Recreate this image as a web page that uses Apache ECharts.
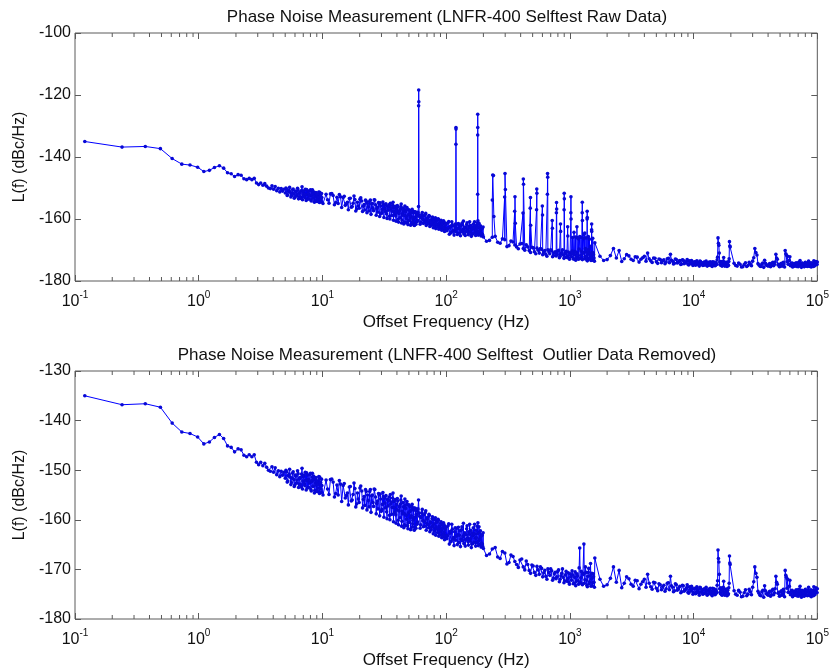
<!DOCTYPE html>
<html><head><meta charset="utf-8">
<script src="https://cdn.jsdelivr.net/npm/echarts@6/dist/echarts.min.js"></script>
<style>html,body{margin:0;padding:0;background:#fff}#c{width:832px;height:672px}</style>
</head><body><div id="c"></div>
<script>
// ---- data (Offset frequency in Hz, L(f) in dBc/Hz) ----
const baseFreq = [
0.12,0.24,0.37,0.49,0.61,0.73,0.85,0.98,1.10,1.22,
1.34,1.47,1.59,1.71,1.83,1.95,2.08,2.20,2.32,2.44,
2.56,2.69,2.81,2.93,3.05,3.17,3.30,3.42,3.54,3.66,
3.79,3.91,4.03,4.15,4.27,4.40,4.52,4.64,4.76,4.88,
5.01,5.13,5.25,5.37,5.49,5.62,5.74,5.86,5.98,6.10,
6.23,6.35,6.47,6.59,6.71,6.84,6.96,7.08,7.20,7.32,
7.45,7.57,7.69,7.81,7.94,8.06,8.18,8.30,8.42,8.55,
8.67,8.79,8.91,9.03,9.16,9.28,9.40,9.52,9.65,9.77,
9.89,
11.0,12.2,13.4,14.7,15.9,17.1,18.3,19.5,20.8,22.0,
23.2,24.4,25.6,26.9,28.1,29.3,30.5,31.7,33.0,34.2,
35.4,36.6,37.8,39.1,40.3,41.5,42.7,43.9,45.2,46.4,
47.6,48.8,50.0,51.3,52.5,53.7,54.9,56.2,57.4,58.6,
59.8,61.0,62.3,63.5,64.7,65.9,67.1,68.4,69.6,70.8,
72.0,73.2,74.5,75.7,76.9,78.1,79.3,80.6,81.8,83.0,
84.2,85.4,86.7,87.9,89.1,90.3,91.5,92.8,94.0,95.2,
96.4,97.7,98.9,
100.0,102.4,104.9,107.3,109.8,112.2,114.6,117.1,119.5,122.0,
124.4,126.8,129.3,131.7,134.2,136.6,139.0,141.5,143.9,146.4,
148.8,151.2,153.7,156.1,158.6,161.0,163.4,165.9,168.3,170.8,
173.2,175.6,178.1,180.5,183.0,185.4,187.8,190.3,192.7,195.1,
197.6,
200,224,249,273,298,322,347,371,395,420,
444,469,493,517,542,566,591,615,639,664,
688,713,737,761,786,810,835,859,883,908,
932,957,981,1005,1030,1054,1079,1103,1127,1152,
1176,1201,1225,1249,1274,1298,1323,1347,1371,1396,
1420,1445,1469,1493,1518,1542,1567,1591,
1750,2000,2250,2500,2750,3000,3250,3500,3750,4000,
4250,4500,4750,5000,5250,5500,5750,6000,6250,6500,
6750,7000,7250,7500,7750,8000,8250,8500,8750,9000,
9250,9500,9750,10000,10250,10500,10750,11000,11250,11500,
11750,12000,12250,12500,12750,13000,13250,13500,13750,14000,
14250,14500,14750,15000,15250,15500,15750,16000,16250,16500,
16750,17000,17250,17500,17750,18000,18250,18500,18750,19000,
19250,19500,19750,
21250,22500,23750,25000,26250,27500,28750,30000,31250,32500,
33750,35000,36250,37500,38750,40000,41250,42500,43750,45000,
46250,47500,48750,50000,51250,52500,53750,55000,56250,57500,
58750,60000,61250,62500,63750,65000,66250,67500,68750,70000,
71250,72500,73750,75000,76250,77500,78750,80000,81250,82500,
83750,85000,86250,87500,88750,90000,91250,92500,93750,95000,
96250,97500,98750,100000
];
const baseLevel = [
-135.0,-136.8,-136.6,-137.3,-140.5,-142.3,-142.6,-143.3,-144.7,-144.3,
-143.4,-142.8,-143.6,-145.1,-145.4,-146.3,-145.7,-145.9,-147.0,-147.3,
-146.9,-147.3,-146.9,-148.4,-148.9,-148.4,-149.1,-148.6,-149.4,-150.0,
-150.2,-149.3,-150.4,-149.5,-150.9,-150.1,-151.3,-150.2,-151.0,-150.4,
-151.6,-150.3,-152.2,-150.8,-151.4,-152.5,-150.6,-151.9,-153.0,-151.2,
-152.0,-150.7,-152.8,-151.5,-153.4,-149.6,-152.2,-151.0,-153.1,-152.0,
-150.5,-153.6,-151.8,-152.6,-150.9,-153.9,-152.3,-151.4,-153.2,-152.0,
-154.1,-151.7,-153.0,-152.4,-154.3,-152.8,-151.9,-153.7,-152.5,-154.5,
-153.1,
-153.8,-152.4,-155.0,-153.1,-154.6,-156.2,-153.7,-155.8,-154.2,-157.1,
-155.0,-153.9,-156.5,-155.4,-157.8,-154.8,-156.9,-155.6,-158.4,-156.1,
-154.9,-157.5,-156.3,-159.0,-155.7,-158.2,-156.8,-160.3,-157.4,-155.8,
-159.1,-161.2,-157.0,-159.6,-158.0,-160.8,-157.6,-161.5,-158.9,-160.4,
-156.0,-159.3,-161.0,-158.6,-160.2,-159.0,-161.3,-158.2,-160.7,-159.5,
-161.6,-159.1,-160.4,-162.0,-159.8,-161.1,-160.0,-162.3,-159.6,-161.4,
-160.5,-162.6,-160.1,-161.8,-163.0,-160.7,-162.1,-161.0,-163.4,-160.6,
-162.5,-161.3,-163.7,
-161.5,-163.2,-160.8,-162.7,-164.4,-161.9,-163.6,-162.4,-164.1,-161.7,
-163.0,-164.6,-162.2,-163.9,-161.4,-163.4,-164.8,-162.6,-164.0,-161.8,
-163.7,-165.1,-162.9,-164.3,-162.1,-164.9,-163.2,-161.6,-164.5,-162.8,
-165.3,-163.6,-161.3,-160.6,-164.2,-162.5,-165.0,-163.4,-164.7,-163.1,
-165.4,
-165.8,-166.9,-165.6,-167.8,-166.7,-168.6,-167.4,-169.0,-168.1,-169.5,
-168.3,-170.2,-169.1,-170.6,-169.4,-171.0,-169.8,-170.7,-171.4,-169.9,
-171.2,-170.3,-171.8,-170.6,-171.5,-170.1,-172.0,-170.8,-171.6,-172.3,
-170.4,-171.9,-172.6,-170.9,-172.2,-171.1,-172.8,-170.5,-172.4,-171.3,
-173.0,-165.7,-171.7,-172.9,-170.8,-164.9,-172.1,-170.6,-173.2,-171.4,
-169.8,-172.5,-168.8,-171.9,-173.3,-170.9,-172.6,-167.7,
-172.0,-173.1,-169.5,-170.2,-172.8,-171.9,-173.4,-172.3,-173.0,-172.0,
-171.0,-173.5,-172.6,-173.8,-172.9,-174.1,-173.2,-173.9,-172.7,-171.4,
-173.6,-174.3,-173.1,-174.0,-173.4,-174.5,-173.3,-174.2,-173.7,-174.6,
-173.5,-174.4,-173.9,-174.7,-173.8,-174.5,-174.0,-174.8,-173.6,-174.6,
-174.1,-174.9,-173.9,-174.7,-174.2,-175.0,-174.0,-174.6,-174.3,-175.1,
-173.8,-174.8,-174.2,-175.0,-174.4,-173.2,-166.1,-168.5,-173.9,-174.9,
-174.3,-175.2,-174.0,-172.4,-174.6,-175.0,-174.1,-174.8,-173.9,-175.1,
-173.7,-167.3,-169.0,
-174.3,-175.2,-174.6,-175.4,-174.1,-175.0,-174.5,-173.6,-169.5,-171.6,
-174.8,-175.3,-174.2,-173.3,-174.9,-175.2,-174.4,-175.1,-174.0,-174.7,
-171.4,-173.0,-174.6,-175.3,-174.3,-175.0,-174.5,-170.2,-171.6,-172.0,
-174.6,-172.2,-174.9,-174.2,-175.3,-174.4,-175.0,-174.1,-174.8,-175.4,
-174.3,-173.4,-174.9,-174.2,-175.1,-174.5,-175.3,-174.0,-174.7,-175.2,
-174.4,-173.6,-174.9,-175.3,-174.1,-174.8,-175.0,-174.2,-173.5,-174.9,
-174.3,-173.7,-174.6,-173.9
];
// Interleaved points of the overlapping measurement segments (dense cloud)
const midFreq = [
5.07,5.19,5.31,5.43,5.56,5.68,5.80,5.92,6.04,6.17,
6.29,6.41,6.53,6.65,6.78,6.90,7.02,7.14,7.26,7.39,
7.51,7.63,7.75,7.87,8.00,8.12,8.24,8.36,8.48,8.61,
8.73,8.85,8.97,9.09,9.22,9.34,9.46,9.58,9.71,9.83,
11.6,12.8,14.0,15.3,16.5,17.7,18.9,20.1,21.4,22.6,
23.8,25.0,26.2,27.5,28.7,29.9,31.1,32.3,33.6,34.8,
36.0,37.2,38.4,39.7,40.9,42.1,43.3,44.5,45.8,47.0,
48.2,49.4,50.6,51.9,53.1,54.3,55.5,56.8,58.0,59.2,
60.4,61.6,62.9,64.1,65.3,66.5,67.7,69.0,70.2,71.4,
72.6,73.8,75.1,76.3,77.5,78.7,79.9,81.2,82.4,83.6,
84.8,86.0,87.3,88.5,89.7,90.9,92.1,93.4,94.6,95.8,
97.0,98.3,99.5,
101.2,103.7,106.1,108.5,111.0,113.4,115.9,118.3,120.7,123.2,
125.6,128.1,130.5,132.9,135.4,137.8,140.3,142.7,145.1,147.6,
150.0,152.5,154.9,157.3,159.8,162.2,164.7,167.1,169.5,172.0,
174.4,176.9,179.3,181.7,184.2,186.6,189.1,191.5,193.9,196.4,
198.8,
212,236,261,285,310,334,359,383,408,432,
456,481,505,530,554,578,603,627,652,676,
700,725,749,774,798,823,847,871,896,920,
945,969,993,1018,1042,1066,1091,1115,1140,1164,
1188,1213,1237,1262,1286,1310,1335,1359,1384,1408,
1432,1457,1481,1505,1530,1554,1579,
1875,2125,2375,2625,2875,3125,3375,3625,3875,4125,
4375,4625,4875,5125,5375,5625,5875,6125,6375,6625,
6875,7125,7375,7625,7875,8125,8375,8625,8875,9125,
9375,9625,9875,10125,10375,10625,10875,11125,11375,11625,
11875,12125,12375,12625,12875,13125,13375,13625,13875,14125,
14375,14625,14875,15125,15375,15625,15875,16125,16375,16625,
16875,17125,17375,17625,17875,18125,18375,18625,18875,19125,
19375,19625,
21875,23125,24375,25625,26875,28125,29375,30625,31875,33125,
34375,35625,36875,38125,39375,40625,41875,43125,44375,45625,
46875,48125,49375,50625,51875,53125,54375,55625,56875,58125,
59375,60625,61875,63125,64375,65625,66875,68125,69375,70625,
71875,73125,74375,75625,76875,78125,79375,80625,81875,83125,
84375,85625,86875,88125,89375,90625,91875,93125,94375,95625,
96875,98125,99375
];
const midLevel = [
-150.0,-152.4,-151.1,-149.8,-152.9,-151.6,-150.3,-153.3,-151.0,-152.6,
-150.1,-153.5,-151.7,-152.9,-150.8,-153.8,-151.3,-152.7,-150.4,-154.0,
-152.1,-151.0,-153.5,-152.4,-150.6,-154.2,-152.0,-153.3,-151.2,-154.6,
-152.6,-151.5,-154.0,-152.2,-153.6,-151.3,-154.7,-152.9,-153.8,-151.8,
-151.9,-154.7,-152.8,-155.6,-153.4,-154.9,-156.8,-153.6,-155.9,-154.3,
-157.4,-155.2,-153.8,-156.7,-155.0,-158.3,-155.3,-157.6,-155.9,-159.1,
-156.4,-154.6,-158.5,-156.9,-160.1,-157.3,-155.2,-158.8,-161.0,-157.7,
-156.3,-160.6,-158.4,-161.8,-156.9,-159.7,-162.0,-158.1,-160.9,-157.8,
-158.7,-161.7,-159.6,-157.9,-161.4,-160.3,-158.6,-162.1,-159.9,-161.0,
-158.9,-162.4,-160.6,-161.5,-159.4,-162.8,-160.8,-161.7,-163.1,-160.2,
-161.9,-159.9,-163.3,-161.2,-162.4,-160.4,-163.6,-161.6,-162.9,-160.9,
-164.0,-161.9,-163.1,
-163.8,-161.2,-164.9,-162.3,-160.9,-163.9,-165.2,-161.6,-163.3,-165.0,
-161.5,-163.1,-165.4,-162.0,-164.2,-160.7,-162.9,-165.3,-163.0,-161.2,
-164.4,-162.4,-160.9,-163.8,-165.6,-162.6,-164.8,-163.0,-160.9,-163.7,
-162.1,-164.6,-162.8,-165.2,-161.4,-163.9,-162.2,-165.5,-163.0,-164.9,
-162.6,
-167.2,-165.9,-167.5,-166.4,-168.9,-167.1,-168.4,-169.6,-167.9,-170.1,
-169.0,-170.8,-169.3,-171.2,-170.1,-169.5,-171.5,-170.2,-172.0,-170.6,
-169.9,-172.2,-170.9,-171.9,-170.4,-172.5,-171.3,-169.9,-172.7,-171.1,
-172.4,-170.7,-173.0,-171.5,-170.3,-172.9,-171.6,-173.3,-170.9,-172.3,
-169.7,-172.6,-170.4,-173.1,-171.0,-172.8,-169.5,-172.2,-173.5,-170.6,
-172.9,-171.3,-173.4,-170.8,-172.7,-171.5,-173.6,
-173.4,-171.8,-172.6,-173.7,-171.5,-173.0,-172.2,-173.9,-172.5,-173.6,
-172.8,-174.0,-172.7,-174.3,-173.1,-173.5,-174.4,-172.8,-174.1,-173.3,
-174.5,-172.9,-174.2,-173.6,-174.7,-173.2,-174.4,-174.0,-173.1,-174.8,
-174.0,-173.4,-175.0,-173.9,-174.9,-173.5,-174.4,-175.2,-173.7,-174.5,
-175.0,-174.0,-174.8,-173.6,-175.2,-174.3,-174.9,-173.8,-174.6,-175.3,
-174.5,-173.9,-175.1,-174.1,-174.7,-172.3,-167.8,-171.0,-174.6,-173.7,
-175.1,-174.4,-173.6,-174.9,-175.2,-174.0,-174.6,-175.3,-174.2,-174.9,
-172.8,-168.7,
-175.0,-174.2,-175.5,-174.7,-175.3,-174.0,-175.1,-172.5,-170.8,-174.4,
-175.2,-174.5,-175.6,-174.3,-175.0,-174.6,-175.4,-174.2,-175.1,-173.9,
-172.6,-174.8,-175.4,-174.5,-175.2,-174.0,-175.5,-171.2,-173.8,-174.6,
-173.4,-175.1,-174.3,-175.5,-174.7,-175.2,-174.4,-175.3,-174.6,-174.0,
-175.1,-174.5,-175.6,-174.3,-174.9,-175.4,-174.2,-175.0,-174.6,-175.3,
-174.1,-175.2,-174.5,-174.8,-175.5,-174.3,-174.9,-175.3,-174.4,-175.1,
-174.6,-173.9,-174.7
];
// Extra points of the overlapping low-offset segment (8 - 60 Hz)
const ovlFreq = [
8.3,8.9,9.5,10.1,10.7,11.3,11.9,12.5,13.1,13.7,
14.3,15.0,15.6,16.2,16.8,17.4,18.0,18.6,19.2,19.8,
20.4,21.1,21.7,22.3,22.9,23.5,24.1,24.7,25.3,25.9,
26.5,27.2,27.8,28.4,29.0,29.6,30.2,30.8,31.4,32.0,
32.6,33.3,33.9,34.5,35.1,35.7,36.3,36.9,37.5,38.1,
38.7,39.4,40.0,40.6,41.2,41.8,42.4,43.0,43.6,44.2,
44.8,45.5,46.1,46.7,47.3,47.9,48.5,49.1,49.7,50.3,
50.9,51.6,52.2,52.8,53.4,54.0,54.6,55.2,55.8,56.4,
57.0,57.7,58.3,58.9
];
const ovlLevel = [
-150.6,-154.3,-151.4,-155.0,-152.0,-154.9,-151.8,-155.4,-153.0,-152.1,
-156.3,-152.7,-155.1,-157.0,-153.3,-156.0,-152.6,-157.4,-154.6,-156.5,
-153.2,-157.6,-155.3,-153.9,-158.0,-156.1,-154.3,-158.5,-155.0,-157.3,
-153.9,-158.8,-156.2,-154.7,-159.2,-155.8,-157.9,-154.5,-159.5,-156.6,
-155.1,-159.8,-157.2,-155.4,-160.0,-156.8,-158.9,-155.6,-160.4,-157.5,
-155.9,-160.7,-158.0,-156.2,-161.0,-157.4,-159.6,-156.0,-161.3,-158.3,
-156.5,-161.6,-158.8,-157.1,-161.2,-159.9,-156.9,-161.8,-158.6,-160.5,
-157.3,-162.0,-159.2,-157.5,-161.4,-160.1,-158.0,-162.1,-159.5,-157.7,
-161.7,-159.0,-160.8,-158.4
];
// Outlier (spur) points present only in the raw data
const rawSpikeFreq = [
59.9,60.0,60.1, 119.9,120.0,120.1, 179.8,179.9,180.0,180.1,
236,238,241,243, 297,299,301, 358,360,362, 418,420.5,422,
478,480,482, 538,540,541, 599,601, 658,660,662, 720,722,
778,780,782, 840,842, 898,900,902, 960,962, 1018,1020,1022,
1050, 1080, 1110, 1140,1142, 1170, 1230, 1258,1260,1262,
1290, 1320, 1350, 1378,1380,1382, 1410, 1440, 1498,1500,1502, 1530
];
const rawSpikeLevel = [
-123.5,-118.4,-122.2, -135.9,-130.5,-131.0, -152.0,-132.9,-126.2,-130.5,
-153.9,-145.8,-146.0,-159.2, -152.9,-145.3,-150.5, -157.5,-152.8,-161.4, -158.1,-147.1,-148.8,
-156.5,-153.1,-162.0, -157.0,-150.3,-151.7, -155.8,-158.7, -152.0,-145.3,-146.5, -160.5,-163.0,
-158.0,-154.7,-156.8, -161.6,-164.0, -157.0,-151.7,-153.5, -162.5,-165.5, -158.0,-152.8,-160.0,
-166.0, -164.3, -165.8, -162.5,-166.0, -166.4, -165.9, -158.0,-154.6,-160.5,
-166.3, -164.5, -166.1, -160.0,-157.5,-159.5, -165.7, -166.5, -163.5,-161.6,-164.0, -166.2
];
const titles = ['Phase Noise Measurement (LNFR-400 Selftest Raw Data)',
                'Phase Noise Measurement (LNFR-400 Selftest  Outlier Data Removed)'];
const xName = 'Offset Frequency (Hz)';
const yName = 'L(f) (dBc/Hz)';
const xTickExp = ['-1','0','1','2','3','4','5'];
const decades = [0.1,1,10,100,1000,10000];
const minorMult = [2,3,4,5,6,7,8,9];
const yRanges = [[-180,-100,20],[-180,-130,10]];

// ---- build ----
[[baseFreq, baseLevel], [midFreq, midLevel], [ovlFreq, ovlLevel], [rawSpikeFreq, rawSpikeLevel]].forEach((p, i) => {
  if (p[0].length !== p[1].length) console.error('length mismatch in set', i, p[0].length, p[1].length);
});
const pairs = (fs, ls) => fs.map((f, i) => [f, ls[i]]);
const base = pairs(baseFreq, baseLevel).concat(pairs(midFreq, midLevel), pairs(ovlFreq, ovlLevel));
const rawData = base.concat(pairs(rawSpikeFreq, rawSpikeLevel)).sort((a, b) => a[0] - b[0]);
const cleanData = base.slice().sort((a, b) => a[0] - b[0]);
const minorTicks = [];
decades.forEach(d => minorMult.forEach(m => minorTicks.push(d * m)));

const FONT = 'Liberation Sans, Arial, sans-serif';
const grids = [
  {left: 75, top: 33, width: 746, height: 248, show: true, borderColor: '#5a5a5a', borderWidth: 1, backgroundColor: '#fff'},
  {left: 75, top: 371, width: 746, height: 248, show: true, borderColor: '#5a5a5a', borderWidth: 1, backgroundColor: '#fff'}
];
const tickStyle = {show: true, inside: true, length: 6, lineStyle: {color: '#5a5a5a', width: 1}};
function xAx(gi, pos) {
  const bottom = pos === 'bottom';
  return {
    type: 'log', logBase: 10, gridIndex: gi, position: pos, min: 0.1, max: 100000, splitNumber: 6,
    axisLine: {show: false}, axisTick: tickStyle, splitLine: {show: false},
    name: bottom ? xName : '', nameLocation: 'middle', nameGap: 33,
    nameTextStyle: {fontFamily: FONT, fontSize: 17, color: '#111'},
    axisLabel: {
      show: bottom, margin: 9,
      formatter: v => {
        const e = Math.round(Math.log10(v));
        return '{b|10}{s|' + xTickExp[e + 1] + '}';
      },
      rich: {
        b: {fontFamily: FONT, fontSize: 16, color: '#111', lineHeight: 20, verticalAlign: 'bottom'},
        s: {fontFamily: FONT, fontSize: 10, color: '#111', lineHeight: 20, verticalAlign: 'top'}
      }
    }
  };
}
function yAx(gi, pos) {
  const left = pos === 'left';
  const r = yRanges[gi];
  return {
    type: 'value', gridIndex: gi, position: pos, min: r[0], max: r[1], interval: r[2],
    axisLine: {show: false}, axisTick: tickStyle, splitLine: {show: false},
    name: left ? yName : '', nameLocation: 'middle', nameGap: 43, nameRotate: 90,
    nameTextStyle: {fontFamily: FONT, fontSize: 16, color: '#111'},
    axisLabel: {show: left, margin: 4, fontFamily: FONT, fontSize: 16, color: '#111'}
  };
}
function minorSeries(gi) {
  const r = yRanges[gi];
  return {
    type: 'custom', xAxisIndex: gi * 2, yAxisIndex: gi * 2, silent: true, clip: false, z: 5,
    data: minorTicks.map(f => [f, r[0]]),
    renderItem: (params, api) => {
      const f = api.value(0);
      const b = api.coord([f, r[0]]);
      const t = api.coord([f, r[1]]);
      const st = {stroke: '#5a5a5a', lineWidth: 1};
      return {type: 'group', children: [
        {type: 'line', shape: {x1: b[0], y1: b[1], x2: b[0], y2: b[1] - 4}, style: st},
        {type: 'line', shape: {x1: t[0], y1: t[1], x2: t[0], y2: t[1] + 4}, style: st}
      ]};
    }
  };
}
function dataSeries(gi, data) {
  return {
    type: 'line', xAxisIndex: gi * 2, yAxisIndex: gi * 2, data: data,
    showAllSymbol: true, symbol: 'circle', symbolSize: 3.6,
    lineStyle: {color: '#0000ff', width: 1},
    itemStyle: {color: '#0808d6'},
    emphasis: {disabled: true}, z: 3
  };
}
const chart = echarts.init(document.getElementById('c'), null, {renderer: 'canvas'});
chart.setOption({
  animation: false,
  backgroundColor: '#fff',
  title: [
    {text: titles[0], left: 442, top: 4, textAlign: 'center', textStyle: {fontFamily: FONT, fontSize: 17, fontWeight: 'normal', color: '#111'}},
    {text: titles[1], left: 442, top: 342, textAlign: 'center', textStyle: {fontFamily: FONT, fontSize: 17, fontWeight: 'normal', color: '#111'}}
  ],
  grid: grids,
  xAxis: [xAx(0, 'bottom'), xAx(0, 'top'), xAx(1, 'bottom'), xAx(1, 'top')],
  yAxis: [yAx(0, 'left'), yAx(0, 'right'), yAx(1, 'left'), yAx(1, 'right')],
  series: [dataSeries(0, rawData), dataSeries(1, cleanData), minorSeries(0), minorSeries(1)]
});
</script></body></html>
